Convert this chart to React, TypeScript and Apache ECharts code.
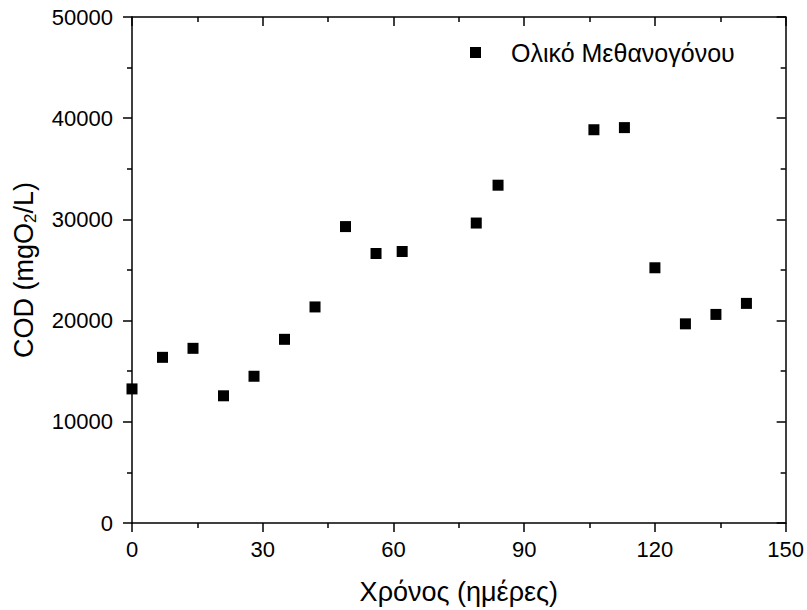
import React, { useEffect, useRef } from "react";
import * as echarts from "echarts";

const days = [0, 7, 14, 21, 28, 35, 42, 49, 56, 62, 79, 84, 106, 113, 120, 127, 134, 141];
const codValues = [13250, 16370, 17260, 12570, 14500, 18150, 21350, 29290, 26630, 26830, 29640, 33380, 38860, 39070, 25220, 19680, 20610, 21700];
const seriesName = "Ολικό Μεθανογόνου";
const xTitle = "Χρόνος (ημέρες)";

const FONT = "Liberation Sans, Arial, sans-serif";

export default function App() {
  const ref = useRef<HTMLDivElement>(null);
  useEffect(() => {
    if (!ref.current) return;
    const chart = echarts.init(ref.current, undefined, { renderer: "svg" });
    const data = days.map((d, i) => [d, codValues[i]]);
    const lineStyle = { color: "#000", width: 1.5 };
    chart.setOption({
      animation: false,
      backgroundColor: "#fff",
      textStyle: { fontFamily: FONT },
      grid: { left: 132, right: 21, top: 17, bottom: 86, containLabel: false },
      legend: {
        left: 465,
        top: 35,
        data: [{ name: seriesName, icon: "rect" }],
        itemWidth: 11,
        itemHeight: 11,
        itemGap: 0,
        textStyle: { fontFamily: FONT, fontSize: 25, color: "#000", padding: [0, 0, 0, 25] },
      },
      xAxis: [
        {
          type: "value",
          min: 0,
          max: 150,
          interval: 30,
          position: "bottom",
          name: xTitle,
          nameLocation: "middle",
          nameGap: 55,
          nameTextStyle: { fontFamily: FONT, fontSize: 27, color: "#000" },
          axisLine: { show: true, onZero: false, lineStyle },
          axisTick: { show: true, inside: false, length: 9, lineStyle },
          minorTick: { show: true, splitNumber: 2, length: 5, lineStyle },
          axisLabel: { fontFamily: FONT, fontSize: 22, color: "#000", margin: 15 },
          splitLine: { show: false },
        },
        {
          type: "value",
          min: 0,
          max: 150,
          interval: 30,
          position: "top",
          axisLine: { show: true, onZero: false, lineStyle },
          axisTick: { show: true, inside: true, length: 9, lineStyle },
          minorTick: { show: true, splitNumber: 2, length: 5, lineStyle },
          axisLabel: { show: false },
          splitLine: { show: false },
        },
      ],
      yAxis: [
        {
          type: "value",
          min: 0,
          max: 50000,
          interval: 10000,
          position: "left",
          name: "COD (mgO{sub|2}/L)",
          nameLocation: "middle",
          nameGap: 93,
          nameRotate: 90,
          nameTextStyle: {
            fontFamily: FONT,
            fontSize: 27,
            color: "#000",
            rich: {
              sub: { fontFamily: FONT, fontSize: 17, color: "#000", verticalAlign: "bottom", padding: [14, 0, 0, 0] },
            },
          },
          axisLine: { show: true, onZero: false, lineStyle },
          axisTick: { show: true, inside: false, length: 9, lineStyle },
          minorTick: { show: true, splitNumber: 2, length: 5, lineStyle },
          axisLabel: { fontFamily: FONT, fontSize: 22, color: "#000", margin: 19, formatter: (v: number) => String(v) },
          splitLine: { show: false },
        },
        {
          type: "value",
          min: 0,
          max: 50000,
          interval: 10000,
          position: "right",
          axisLine: { show: true, onZero: false, lineStyle },
          axisTick: { show: true, inside: true, length: 9, lineStyle },
          minorTick: { show: true, splitNumber: 2, length: 5, lineStyle },
          axisLabel: { show: false },
          splitLine: { show: false },
        },
      ],
      series: [
        {
          name: seriesName,
          type: "scatter",
          xAxisIndex: 0,
          yAxisIndex: 0,
          symbol: "rect",
          symbolSize: 11,
          itemStyle: { color: "#000", opacity: 1 },
          data,
        },
      ],
    });
    return () => chart.dispose();
  }, []);
  return <div ref={ref} style={{ width: 807, height: 610, position: "absolute", left: 0, top: 0 }} />;
}
